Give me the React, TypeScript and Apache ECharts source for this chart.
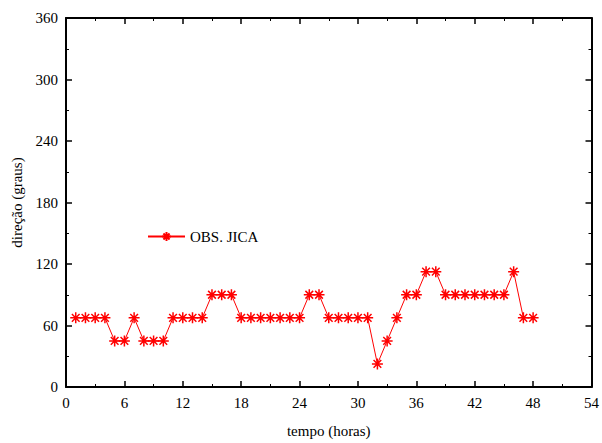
import React, { useEffect, useRef } from "react";
import * as echarts from "echarts";

const hours = [
  1, 2, 3, 4, 5, 6, 7, 8, 9, 10, 11, 12, 13, 14, 15, 16, 17, 18, 19, 20, 21, 22, 23, 24,
  25, 26, 27, 28, 29, 30, 31, 32, 33, 34, 35, 36, 37, 38, 39, 40, 41, 42, 43, 44, 45, 46, 47, 48,
];
const direction = [
  67.5, 67.5, 67.5, 67.5, 45, 45, 67.5, 45, 45, 45, 67.5, 67.5, 67.5, 67.5, 90, 90, 90, 67.5,
  67.5, 67.5, 67.5, 67.5, 67.5, 67.5, 90, 90, 67.5, 67.5, 67.5, 67.5, 67.5, 22.5, 45, 67.5, 90,
  90, 112.5, 112.5, 90, 90, 90, 90, 90, 90, 90, 112.5, 67.5, 67.5,
];
const seriesName = "OBS. JICA";
const xName = "tempo (horas)";
const yName = "direção (graus)";

const ASTERISK =
  "path://M0,-6L0,6M-6,0L6,0M-4.2,-4.2L4.2,4.2M-4.2,4.2L4.2,-4.2";

export default function App() {
  const ref = useRef<HTMLDivElement>(null);
  useEffect(() => {
    if (!ref.current) return;
    const chart = echarts.init(ref.current, null, { renderer: "svg" });
    const font = "Liberation Serif";
    const fs = 15;
    const axisCommon = {
      axisLine: { show: true, onZero: false, lineStyle: { color: "#000", width: 2 } },
      axisTick: { show: true, inside: true, length: 6, lineStyle: { color: "#000", width: 1.5 } },
      minorTick: { show: true, splitNumber: 2, length: 3, lineStyle: { color: "#000", width: 1 } },
      splitLine: { show: false },
    };
    chart.setOption({
      animation: false,
      backgroundColor: "#fff",
      textStyle: { fontFamily: font },
      grid: { left: 66, right: 9, top: 18, bottom: 51, containLabel: false },
      legend: {
        left: 142,
        top: 224,
        padding: 5,
        itemWidth: 37,
        itemHeight: 11,
        itemGap: 4,
        textStyle: { fontFamily: font, fontSize: fs, color: "#000" },
        data: [seriesName],
      },
      xAxis: [
        {
          type: "value",
          min: 0,
          max: 54,
          interval: 6,
          position: "bottom",
          name: xName,
          nameLocation: "middle",
          nameGap: 36,
          nameTextStyle: { fontFamily: font, fontSize: fs, color: "#000" },
          axisLabel: { fontFamily: font, fontSize: fs, color: "#000", margin: 8 },
          ...axisCommon,
        },
        {
          type: "value",
          min: 0,
          max: 54,
          interval: 6,
          position: "top",
          axisLabel: { show: false },
          ...axisCommon,
        },
      ],
      yAxis: [
        {
          type: "value",
          min: 0,
          max: 360,
          interval: 60,
          position: "left",
          name: yName,
          nameLocation: "middle",
          nameGap: 39,
          nameTextStyle: { fontFamily: font, fontSize: fs, color: "#000" },
          axisLabel: { fontFamily: font, fontSize: fs, color: "#000", margin: 8 },
          ...axisCommon,
        },
        {
          type: "value",
          min: 0,
          max: 360,
          interval: 60,
          position: "right",
          axisLabel: { show: false },
          ...axisCommon,
        },
      ],
      series: [
        {
          name: seriesName,
          type: "line",
          data: hours.map((h, i) => [h, direction[i]]),
          symbol: ASTERISK,
          symbolSize: 11,
          lineStyle: { color: "#ff0000", width: 1 },
          itemStyle: { color: "#ff0000", borderColor: "#ff0000", borderWidth: 1.5 },
        },
      ],
    });
    return () => chart.dispose();
  }, []);
  return (
    <div
      ref={ref}
      style={{ position: "absolute", left: 0, top: 0, width: 602, height: 443 }}
    />
  );
}
